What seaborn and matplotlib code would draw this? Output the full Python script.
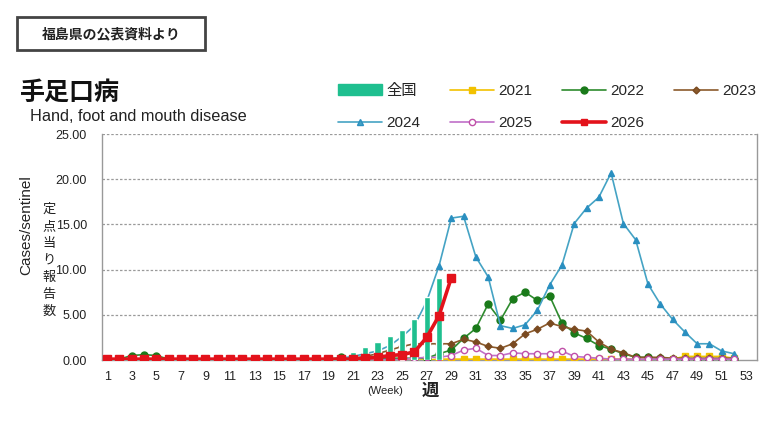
import numpy as np
import pandas as pd
import matplotlib
matplotlib.use("Agg")
import matplotlib.pyplot as plt
from matplotlib.patches import Rectangle, Patch
from matplotlib.lines import Line2D
import seaborn as sns

# 週ごとの定点当り報告数 (福島県)
weeks = list(range(1, 53))

y2021 = [0.0] * 27 + [0.1] * 20 + [0.4, 0.4, 0.4, 0.4, 0.2]
y2022 = [0.1, 0.1, 0.5, 0.6, 0.5, 0.1] + [0.05] * 13 + [0.3, 0.2, 0.2, 0.2, 0.2, 0.2, 0.2, 0.2,
         0.7, 1.1, 2.4, 3.5, 6.2, 4.4, 6.8, 7.5, 6.6, 7.1, 4.1, 3.0, 2.4, 1.6, 1.2, 0.7,
         0.3, 0.3, 0.2, 0.1, 0.1, 0.1, 0.1, 0.1, 0.1]
y2023 = [0.05] * 20 + [0.2, 0.4, 0.7, 1.1, 1.5, 1.8, 1.8, 1.8, 1.8, 2.3, 2.0, 1.5, 1.3,
         1.8, 2.9, 3.4, 4.1, 3.7, 3.4, 3.2, 2.0, 1.2, 0.8, 0.3, 0.3, 0.3, 0.2, 0.2, 0.2,
         0.2, 0.2, 0.2]
y2024 = [0.1] * 19 + [0.2, 0.4, 0.7, 1.0, 1.6, 2.6, 3.8, 6.5, 10.4, 15.7, 15.9, 11.4, 9.2,
         3.8, 3.5, 3.9, 5.5, 8.3, 10.5, 15.1, 16.8, 18.0, 20.7, 15.1, 13.3, 8.4, 6.2, 4.5,
         3.1, 1.8, 1.8, 1.0, 0.7]
y2025 = [0.05] * 25 + [0.2, 0.3, 0.3, 0.5, 1.1, 1.3, 0.5, 0.5, 0.8, 0.7, 0.7, 0.7, 1.0,
         0.4, 0.3, 0.2] + [0.1] * 11
weeks_2026 = list(range(1, 30))
y2026 = [0.1] * 21 + [0.2, 0.3, 0.5, 0.6, 0.9, 2.5, 4.9, 9.1]
weeks_zenkoku = list(range(1, 29))
zenkoku = [0.0] * 19 + [0.4, 0.9, 1.4, 2.0, 2.7, 3.3, 4.5, 7.0, 9.1]

sns.set_style("white")
plt.rcParams['font.family'] = ['Liberation Sans', 'Noto Sans CJK JP']

fig = plt.figure(figsize=(7.8, 4.38), dpi=100)
ax = fig.add_axes([0.131, 0.178, 0.84, 0.516])

ax.bar(weeks_zenkoku, zenkoku, width=0.5, color='#1fbf8f', zorder=3.5)

series = [
    (y2021, weeks, '#f2c100', '#f2c100', 's', 4, 1.2, '#f2c100', 3),
    (y2022, weeks, '#2e8b2e', '#1a7a1a', 'o', 5, 1.2, '#1a7a1a', 3),
    (y2023, weeks, '#8b5a2b', '#7a4a20', 'D', 3.5, 1.2, '#7a4a20', 3),
    (y2024, weeks, '#45a3c4', '#2a8fc0', '^', 5, 1.2, '#2a8fc0', 3),
    (y2025, weeks, '#c070c8', '#c050a8', 'o', 4.5, 1.2, 'white', 3),
    (y2026, weeks_2026, '#e3121b', '#e3121b', 's', 5.5, 2.6, '#e3121b', 4),
]
for vals, xs, col, mcol, mk, ms, lw, face, z in series:
    sns.lineplot(x=xs, y=vals, ax=ax, color=col, linewidth=lw, marker=mk, markersize=ms,
                 markeredgecolor=mcol, markerfacecolor=face, markeredgewidth=1.0, zorder=z)

ax.set_xlim(0.6, 53.9)
ax.set_ylim(0, 25)
ax.set_xticks(range(1, 54, 2))
ax.set_yticks([0, 5, 10, 15, 20, 25])
ax.set_yticklabels([f"{v:.2f}" for v in [0, 5, 10, 15, 20, 25]])
ax.tick_params(axis='both', labelsize=9, colors='#222222', length=0)
ax.tick_params(axis='y', pad=11)
ax.tick_params(axis='x', pad=8)
for v in [5, 10, 15, 20, 25]:
    ax.axhline(v, color='#9a9a9a', linewidth=0.9, linestyle=(0, (2, 1.5)), zorder=1)
ax.spines['top'].set_visible(False)
for s in ['left', 'right', 'bottom']:
    ax.spines[s].set_color('#999999')
    ax.spines[s].set_linewidth(1.0)
ax.set_xlabel('')
ax.set_ylabel('')

# 縦軸ラベル
fig.text(0.034, 0.486, 'Cases/sentinel', rotation=90, ha='center', va='center', fontsize=11, color='#222222')
fig.text(0.0625, 0.404, '\n'.join('定点当り報告数'), ha='center', va='center', fontsize=9.5,
         linespacing=1.55, color='#222222')
fig.text(0.494, 0.107, '(Week)', ha='center', va='center', fontsize=8, color='#222222')
fig.text(0.552, 0.107, '週', ha='center', va='center', fontsize=12.5, color='#222222', fontweight='bold')

# タイトル
fig.text(0.026, 0.787, '手足口病', ha='left', va='center', fontsize=18, fontweight='bold', color='#111111')
fig.text(0.038, 0.733, 'Hand, foot and mouth disease', ha='left', va='center', fontsize=11.7, color='#222222')

# 出典の枠
fig.patches.append(Rectangle((17 / 780, 1 - 50 / 438), 188 / 780, 33 / 438, transform=fig.transFigure,
                             fill=False, edgecolor='#444444', linewidth=2))
fig.text(111 / 780, 1 - 34 / 438, '福島県の公表資料より', ha='center', va='center', fontsize=10,
         fontweight='bold', color='#222222')

# 凡例
handles = [
    Patch(color='#1fbf8f'),
    Line2D([], [], color='#45a3c4', marker='^', markersize=5, markeredgecolor='#2a8fc0', linewidth=1.2),
    Line2D([], [], color='#f2c100', marker='s', markersize=4, linewidth=1.2),
    Line2D([], [], color='#c070c8', marker='o', markersize=4.5, markerfacecolor='white',
           markeredgecolor='#c050a8', linewidth=1.2),
    Line2D([], [], color='#2e8b2e', marker='o', markersize=5, markeredgecolor='#1a7a1a',
           markerfacecolor='#1a7a1a', linewidth=1.2),
    Line2D([], [], color='#e3121b', marker='s', markersize=5, linewidth=2.6),
    Line2D([], [], color='#8b5a2b', marker='D', markersize=3.5, markeredgecolor='#7a4a20', linewidth=1.2),
]
labels = ['全国', '2024', '2021', '2025', '2022', '2026', '2023']
fig.legend(handles, labels, ncol=4, loc='upper left', bbox_to_anchor=(0.426, 0.822), frameon=False,
           fontsize=11, handlelength=2.85, handletextpad=0.3, columnspacing=1.95, labelspacing=1.2,
           borderaxespad=0)

fig.savefig('out.png', dpi=100, facecolor='white')
